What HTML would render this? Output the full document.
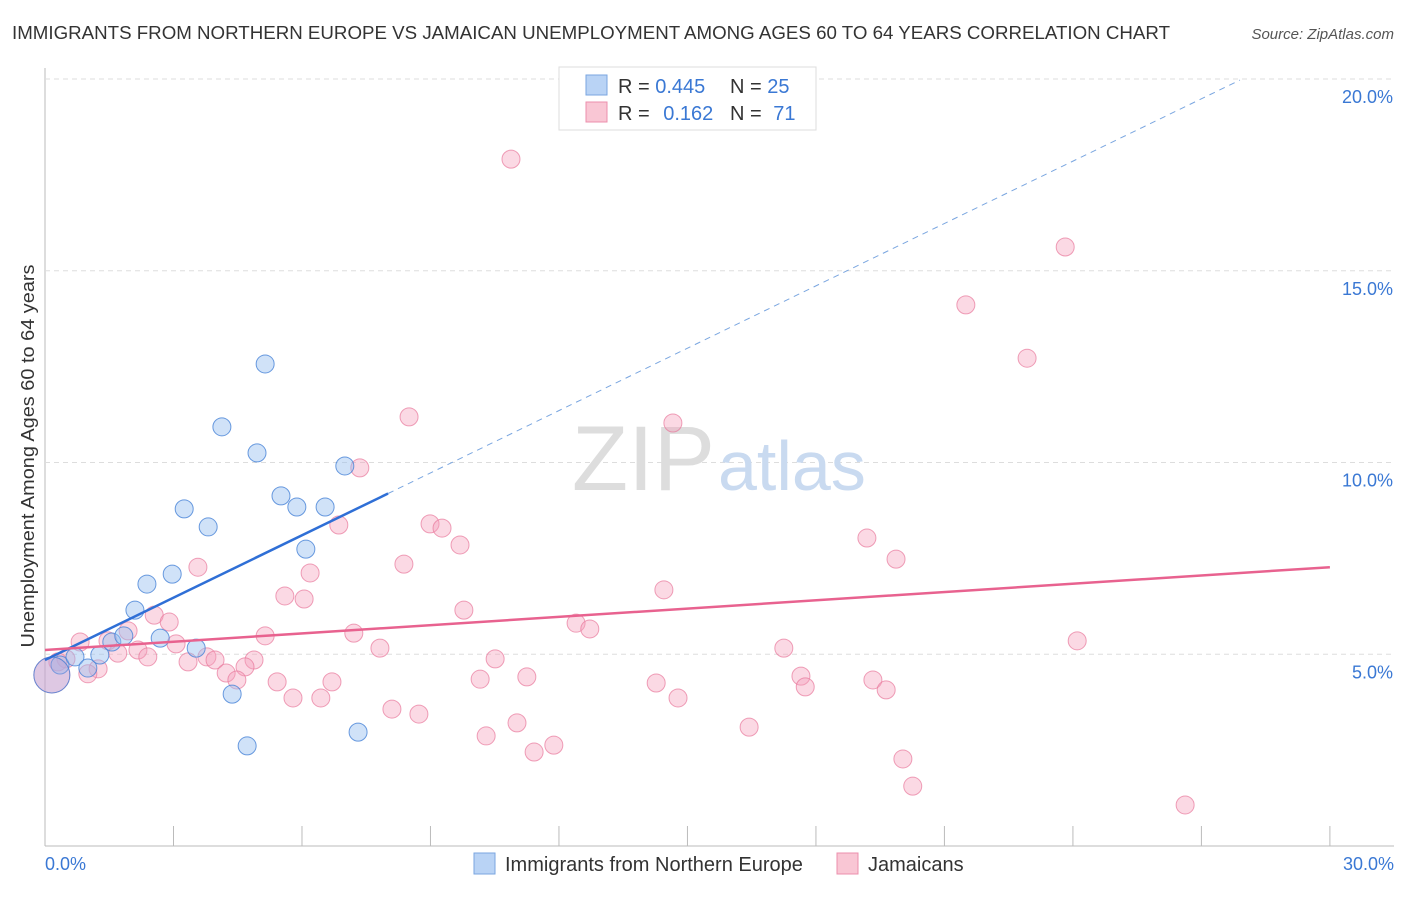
<!DOCTYPE html>
<html><head><meta charset="utf-8"><style>
body{margin:0;background:#fff;font-family:"Liberation Sans",sans-serif;}
svg text{font-family:"Liberation Sans",sans-serif;}
</style></head><body>
<svg id="chart" width="1406" height="892">
<text x="12" y="39" font-size="18" fill="#333" textLength="1158" lengthAdjust="spacingAndGlyphs">IMMIGRANTS FROM NORTHERN EUROPE VS JAMAICAN UNEMPLOYMENT AMONG AGES 60 TO 64 YEARS CORRELATION CHART</text>
<text x="1394" y="39" font-size="15" fill="#555" font-style="italic" text-anchor="end">Source: ZipAtlas.com</text>
<g id="grid"></g>
<text x="715" y="490" font-size="92" fill="#ddd" font-family="Liberation Serif" text-anchor="end">ZIP</text>
<text x="718" y="490" font-size="70" fill="#c9daf0">atlas</text>
<text transform="translate(34,456) rotate(-90)" font-size="18" fill="#333" text-anchor="middle" textLength="383" lengthAdjust="spacingAndGlyphs">Unemployment Among Ages 60 to 64 years</text>
<g id="marks"></g>
<g>
<rect x="559" y="67" width="257" height="63" fill="#fff" stroke="#ddd"/>
<rect x="586" y="75" width="21" height="20" fill="#b9d3f5" stroke="#7aa6e0"/>
<rect x="586" y="102" width="21" height="20" fill="#f9c6d4" stroke="#ec8fac"/>
<text x="618" y="93" font-size="20" fill="#333">R = <tspan fill="#3a78d4">0.445</tspan></text>
<text x="730" y="93" font-size="20" fill="#333">N = <tspan fill="#3a78d4">25</tspan></text>
<text x="618" y="120" font-size="20" fill="#333">R = <tspan fill="#3a78d4" dx="8">0.162</tspan></text>
<text x="730" y="120" font-size="20" fill="#333">N = <tspan fill="#3a78d4" dx="6">71</tspan></text>
</g>
<g>
<rect x="474" y="853" width="21" height="21" fill="#b9d3f5" stroke="#7aa6e0"/>
<text x="505" y="871" font-size="20" fill="#333">Immigrants from Northern Europe</text>
<rect x="837" y="853" width="21" height="21" fill="#f9c6d4" stroke="#ec8fac"/>
<text x="868" y="871" font-size="20" fill="#333">Jamaicans</text>
</g>
</svg>
<script>
const xTicks=[0,3,6,9,12,15,18,21,24,27,30];
const yTicks=[5,10,15,20];
const blueX=[0.35,0.16,0.70,1.00,1.28,1.56,1.84,2.10,2.38,2.69,2.97,3.25,3.53,3.81,4.13,4.37,4.72,4.95,5.14,5.51,5.88,6.09,6.54,7.00,7.31];
const blueY=[4.72,4.46,4.93,4.64,4.98,5.32,5.48,6.15,6.83,5.42,7.09,8.79,5.16,8.32,10.93,3.96,2.61,10.25,12.57,9.13,8.84,7.74,8.84,9.91,2.97];
const pinkX=[10.88,23.82,21.50,22.93,8.50,14.66,7.35,6.86,8.99,9.27,9.69,19.19,19.87,8.38,3.57,6.19,14.45,5.60,6.05,9.78,2.55,2.90,12.40,12.72,1.94,0.82,1.47,3.06,5.14,7.21,24.10,17.25,1.70,2.17,2.40,3.78,3.97,4.88,7.82,3.34,10.51,1.24,1.00,0.49,4.67,4.23,4.48,5.42,5.79,6.44,6.70,10.16,11.25,14.27,14.78,17.65,17.75,19.33,19.64,8.10,8.73,11.02,10.30,11.42,11.88,16.44,20.03,20.26,26.62,0.30,0.16];
const pinkY=[17.91,15.62,14.11,12.72,11.19,11.03,9.86,8.37,8.40,8.29,7.85,8.03,7.48,7.35,7.27,7.12,6.68,6.52,6.44,6.15,6.02,5.84,5.81,5.66,5.61,5.32,5.35,5.27,5.48,5.55,5.35,5.16,5.03,5.11,4.93,4.93,4.85,4.85,5.16,4.80,4.88,4.62,4.49,4.88,4.67,4.51,4.33,4.28,3.86,3.86,4.28,4.35,4.41,4.25,3.86,4.43,4.15,4.33,4.07,3.57,3.44,3.21,2.87,2.45,2.63,3.10,2.27,1.56,1.07,4.80,4.46];
const blueTrend=[4.85,0.542];
const pinkTrend=[5.11,0.072];
const NS="http://www.w3.org/2000/svg";
const xs=v=>45+v*42.83, ys=v=>846-v*38.35;
function mk(tag,a,parent){const e=document.createElementNS(NS,tag);for(const k in a)e.setAttribute(k,a[k]);parent.appendChild(e);return e;}
const grid=document.getElementById('grid'), marks=document.getElementById('marks');
let ax=mk('line',{x1:45,y1:68,x2:45,y2:846,stroke:'#bbb'},grid);


let bx=mk('line',{x1:45,y1:846,x2:1394,y2:846,stroke:'#bbb'},grid);


yTicks.forEach(t=>{
 const g=mk('line',{x1:45,y1:ys(t),x2:1394,y2:ys(t),stroke:'#ddd','stroke-dasharray':'5,4'},grid);
 
 
 const l=mk('text',{x:1393,y:ys(t)+24,'font-size':18,fill:'#3a78d4','text-anchor':'end'},grid);
 l.textContent=t.toFixed(1)+'%';
 
 
});
xTicks.forEach(t=>{
 const g=mk('line',{x1:xs(t),y1:826,x2:xs(t),y2:846,stroke:'#bbb'},grid);
 
 
});
[[0,'start',45],[30,'end',1394]].forEach(([t,a,x])=>{
 const l=mk('text',{x:x,y:870,'font-size':18,fill:'#3a78d4','text-anchor':a},grid);
 l.textContent=t.toFixed(1)+'%';
 
 
});
pinkX.forEach((v,i)=>{
 const c=mk('circle',{cx:xs(v),cy:ys(pinkY[i]),r:i==pinkX.length-1?18:9,fill:'rgba(244,160,187,0.4)',stroke:'rgba(232,120,155,0.7)','stroke-width':1},marks);
 
 
});
blueX.forEach((v,i)=>{
 const c=mk('circle',{cx:xs(v),cy:ys(blueY[i]),r:i==1?18:9,fill:i==1?'rgba(170,170,225,0.35)':'rgba(150,190,240,0.45)',stroke:'rgba(70,130,215,0.8)','stroke-width':1},marks);
 
 
});
let bl=mk('line',{x1:xs(0),y1:ys(blueTrend[0]),x2:xs(8.01),y2:ys(blueTrend[0]+blueTrend[1]*8.01),stroke:'#2f6fd6','stroke-width':2.5},marks);


let bd=mk('line',{x1:xs(8.01),y1:ys(blueTrend[0]+blueTrend[1]*8.01),x2:xs(27.9),y2:ys(blueTrend[0]+blueTrend[1]*27.9),stroke:'#7aa6e0','stroke-width':1,'stroke-dasharray':'6,5'},marks);


let pl=mk('line',{x1:xs(0),y1:ys(pinkTrend[0]),x2:xs(30),y2:ys(pinkTrend[0]+pinkTrend[1]*30),stroke:'#e8628f','stroke-width':2.5},marks);


</script>
</body></html>
